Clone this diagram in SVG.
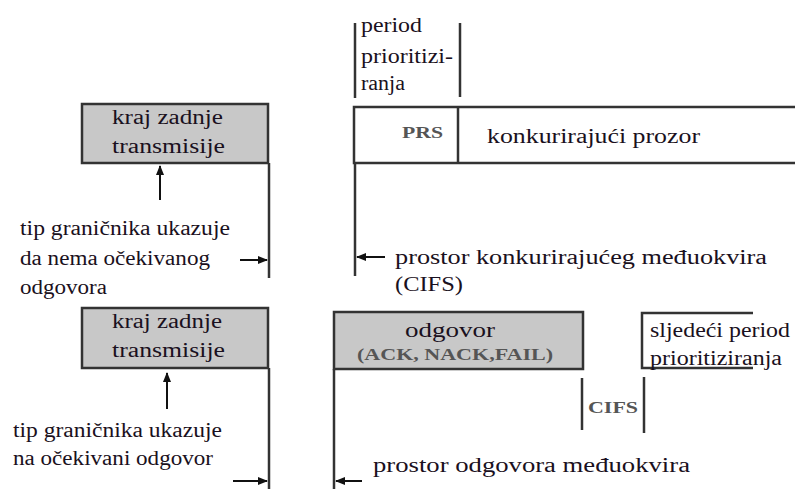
<svg xmlns="http://www.w3.org/2000/svg" width="795" height="489" viewBox="0 0 795 489">
<style>
.lbl{font-family:'Liberation Serif','Times New Roman',serif;font-size:20px;fill:#1a1020}
.bd{font-family:'Liberation Serif','Times New Roman',serif;font-size:17px;font-weight:bold;fill:#555}
.ln{stroke:#333;stroke-width:2.5;fill:none}
.box{fill:#c8c8c8;stroke:#333;stroke-width:2.5}
.ar{stroke:#111;stroke-width:2;fill:none}
</style>
<defs>
<marker id="ah2" viewBox="0 0 10 10" refX="9" refY="5" markerWidth="10" markerHeight="10" orient="auto" markerUnits="userSpaceOnUse">
<path d="M0,1 L10,5 L0,9 z" fill="#111"/>
</marker>
</defs>

<g id="period-top">
<line class="ln" x1="355" y1="23" x2="355" y2="98"/>
<line class="ln" x1="460" y1="23" x2="460" y2="97"/>
<text class="lbl" x="361" y="32" textLength="61" lengthAdjust="spacingAndGlyphs">period</text>
<text class="lbl" x="361" y="63" textLength="92" lengthAdjust="spacingAndGlyphs">prioritizi-</text>
<text class="lbl" x="361" y="90" textLength="44" lengthAdjust="spacingAndGlyphs">ranja</text>
</g>

<g id="prs-box">
<path class="ln" d="M795,107 L354,107 L354,163 L795,163"/>
<line class="ln" x1="458" y1="107" x2="458" y2="163"/>
<text class="bd" x="402" y="138" textLength="41" lengthAdjust="spacingAndGlyphs">PRS</text>
<text class="lbl" x="487" y="143" textLength="213" lengthAdjust="spacingAndGlyphs">konkurirajući prozor</text>
</g>

<g id="end-top">
<rect class="box" x="82" y="104" width="186" height="59"/>
<text class="lbl" x="112" y="124" textLength="111" lengthAdjust="spacingAndGlyphs">kraj zadnje</text>
<text class="lbl" x="112" y="153" textLength="113" lengthAdjust="spacingAndGlyphs">transmisije</text>
</g>

<g id="label-top">
<text class="lbl" x="20" y="235" textLength="210" lengthAdjust="spacingAndGlyphs">tip graničnika ukazuje</text>
<text class="lbl" x="20" y="265" textLength="190" lengthAdjust="spacingAndGlyphs">da nema očekivanog</text>
<text class="lbl" x="20" y="294" textLength="87" lengthAdjust="spacingAndGlyphs">odgovora</text>
</g>

<g id="cifs-label">
<text class="lbl" x="395" y="264" textLength="372" lengthAdjust="spacingAndGlyphs">prostor konkurirajućeg međuokvira</text>
<text class="lbl" x="395" y="291" textLength="68" lengthAdjust="spacingAndGlyphs">(CIFS)</text>
</g>

<g id="end-bottom">
<rect class="box" x="82" y="308" width="186" height="60"/>
<text class="lbl" x="112" y="328" textLength="110" lengthAdjust="spacingAndGlyphs">kraj zadnje</text>
<text class="lbl" x="112" y="357" textLength="113" lengthAdjust="spacingAndGlyphs">transmisije</text>
</g>

<g id="label-bottom">
<text class="lbl" x="13" y="437" textLength="209" lengthAdjust="spacingAndGlyphs">tip graničnika ukazuje</text>
<text class="lbl" x="13" y="465" textLength="200" lengthAdjust="spacingAndGlyphs">na očekivani odgovor</text>
</g>

<g id="response">
<rect class="box" x="334" y="312" width="249" height="57"/>
<text class="lbl" x="405" y="337" textLength="90" lengthAdjust="spacingAndGlyphs">odgovor</text>
<text class="bd" x="357" y="360" textLength="196" lengthAdjust="spacingAndGlyphs">(ACK, NACK,FAIL)</text>
</g>

<g id="next-period">
<path class="ln" d="M753,313 L642,313 L642,368 L753,368"/>
<text class="lbl" x="650" y="337" textLength="140" lengthAdjust="spacingAndGlyphs">sljedeći period</text>
<text class="lbl" x="650" y="365" textLength="132" lengthAdjust="spacingAndGlyphs">prioritiziranja</text>
</g>

<g id="cifs">
<line class="ln" x1="582" y1="378" x2="582" y2="430"/>
<line class="ln" x1="644" y1="377" x2="644" y2="433"/>
<text class="bd" x="588" y="413" textLength="50" lengthAdjust="spacingAndGlyphs">CIFS</text>
</g>

<g id="rif-label">
<text class="lbl" x="373" y="472" textLength="317" lengthAdjust="spacingAndGlyphs">prostor odgovora međuokvira</text>
</g>

<g id="connectors">
<line class="ln" x1="269" y1="163" x2="269" y2="278"/>
<line class="ln" x1="355" y1="163" x2="355" y2="276"/>
<line class="ln" x1="269" y1="368" x2="269" y2="489"/>
<line class="ln" x1="334" y1="369" x2="334" y2="489"/>
<line class="ar" x1="160" y1="200" x2="160" y2="166" marker-end="url(#ah2)"/>
<line class="ar" x1="167" y1="409" x2="167" y2="373" marker-end="url(#ah2)"/>
<line class="ar" x1="240" y1="260" x2="267" y2="260" marker-end="url(#ah2)"/>
<line class="ar" x1="385" y1="257" x2="357" y2="257" marker-end="url(#ah2)"/>
<line class="ar" x1="233" y1="481" x2="267" y2="481" marker-end="url(#ah2)"/>
<line class="ar" x1="362" y1="481" x2="336" y2="481" marker-end="url(#ah2)"/>
</g>
</svg>
